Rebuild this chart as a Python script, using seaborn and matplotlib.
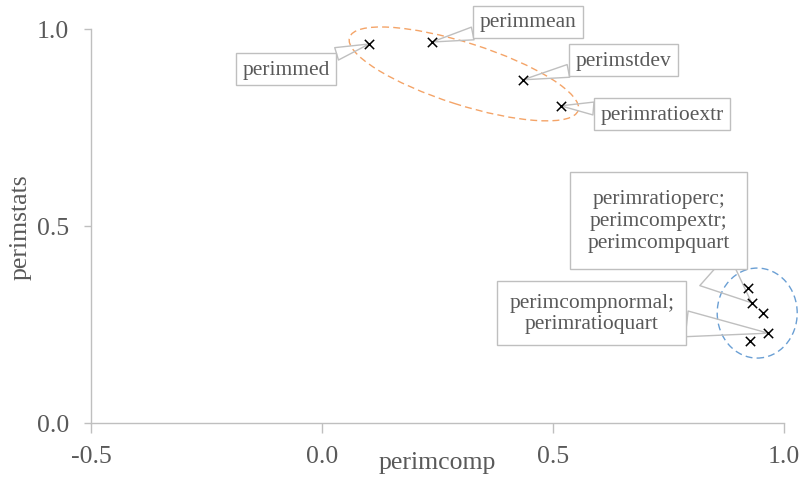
import matplotlib
matplotlib.use("Agg")
import matplotlib.pyplot as plt
import matplotlib.transforms as mtransforms
from matplotlib.patches import Ellipse
import seaborn as sns
import pandas as pd

# Measure coordinates
perimcomp = [0.102, 0.238, 0.435, 0.517, 0.922, 0.930, 0.955, 0.966, 0.926]
perimstats = [0.962, 0.967, 0.871, 0.805, 0.343, 0.305, 0.279, 0.228, 0.208]

# Callout labels, the point each one points to, and where the box sits
label_texts = [
    "perimmed",
    "perimmean",
    "perimstdev",
    "perimratioextr",
    "perimratioperc;\nperimcompextr;\nperimcompquart",
    "perimcompnormal;\nperimratioquart",
]
label_targets = [0, 1, 2, 3, 5, 7]
label_x = [-0.078, 0.446, 0.652, 0.736, 0.729, 0.584]
label_y = [0.898, 1.018, 0.921, 0.784, 0.514, 0.279]
label_pad = [0.3, 0.3, 0.3, 0.3, 0.8, 0.55]
leader_width = [0.6, 0.6, 0.6, 0.6, 2.0, 1.2]

x_ticks = [-0.5, 0.0, 0.5, 1.0]
y_ticks = [0.0, 0.5, 1.0]

sns.set_theme(style="white")
plt.rcParams["font.family"] = ["Liberation Serif", "DejaVu Serif"]

TEXT = "#595959"
GRID = "#bfbfbf"
AXIS_FS = 18.5
LABEL_FS = 15.5

fig = plt.figure(figsize=(8.03, 4.81), dpi=100)
ax = fig.add_axes([91 / 803, 1 - 424 / 481, (784 - 91) / 803, (424 - 30) / 481])

df = pd.DataFrame({"perimcomp": perimcomp, "perimstats": perimstats})
sns.scatterplot(data=df, x="perimcomp", y="perimstats", marker="x",
                color="black", s=45, linewidth=1.1, ax=ax, zorder=7)

ax.set_xlim(-0.5, 1.0)
ax.set_ylim(0.0, 1.0)
ax.set_xticks(x_ticks)
ax.set_yticks(y_ticks)
ax.set_xticklabels([f"{v:.1f}" for v in x_ticks])
ax.set_yticklabels([f"{v:.1f}" for v in y_ticks])

for side in ["top", "right"]:
    ax.spines[side].set_visible(False)
for side in ["left", "bottom"]:
    ax.spines[side].set_color(GRID)
    ax.spines[side].set_linewidth(1.0)

ax.tick_params(axis="x", direction="out", length=7, width=1, color=GRID,
               labelsize=AXIS_FS, labelcolor=TEXT, pad=8.5, bottom=True)
ax.tick_params(axis="y", direction="out", length=5, width=1, color=GRID,
               labelsize=AXIS_FS, labelcolor=TEXT, pad=11, left=True)

ax.set_xlabel("perimcomp", fontsize=AXIS_FS, color=TEXT)
ax.set_ylabel("perimstats", fontsize=AXIS_FS, color=TEXT)
ax.xaxis.set_label_coords(0.5, -0.07)
ax.yaxis.set_label_coords(-0.085, 0.5)

# Dashed group outlines, sized in inches around a data-space centre
def group_outline(cx, cy, w, h, angle, color):
    tr = fig.dpi_scale_trans + mtransforms.ScaledTranslation(cx, cy, ax.transData)
    e = Ellipse((0, 0), w, h, angle=angle, transform=tr, fill=False,
                edgecolor=color, linewidth=1.0, linestyle=(0, (5, 3)),
                zorder=3, clip_on=False)
    ax.add_patch(e)

group_outline(0.307, 0.886, 2.40, 0.62, -17.7, "#f4a468")
group_outline(0.942, 0.279, 0.80, 0.90, 0.0, "#6a9fd4")

# Callout boxes with wedge leaders
for text, idx, tx, ty, pad, tw in zip(label_texts, label_targets, label_x,
                                      label_y, label_pad, leader_width):
    ax.annotate(
        text, xy=(perimcomp[idx], perimstats[idx]), xytext=(tx, ty),
        textcoords="data", ha="center", va="center", fontsize=LABEL_FS,
        color=TEXT, linespacing=1.2, annotation_clip=False, zorder=6,
        bbox=dict(boxstyle=f"square,pad={pad}", fc="white", ec=GRID, lw=1.0),
        arrowprops=dict(arrowstyle=f"wedge,tail_width={tw}", fc="none",
                        ec=GRID, lw=1.0, shrinkA=0, shrinkB=0),
    )

fig.savefig("out.png", dpi=100)
